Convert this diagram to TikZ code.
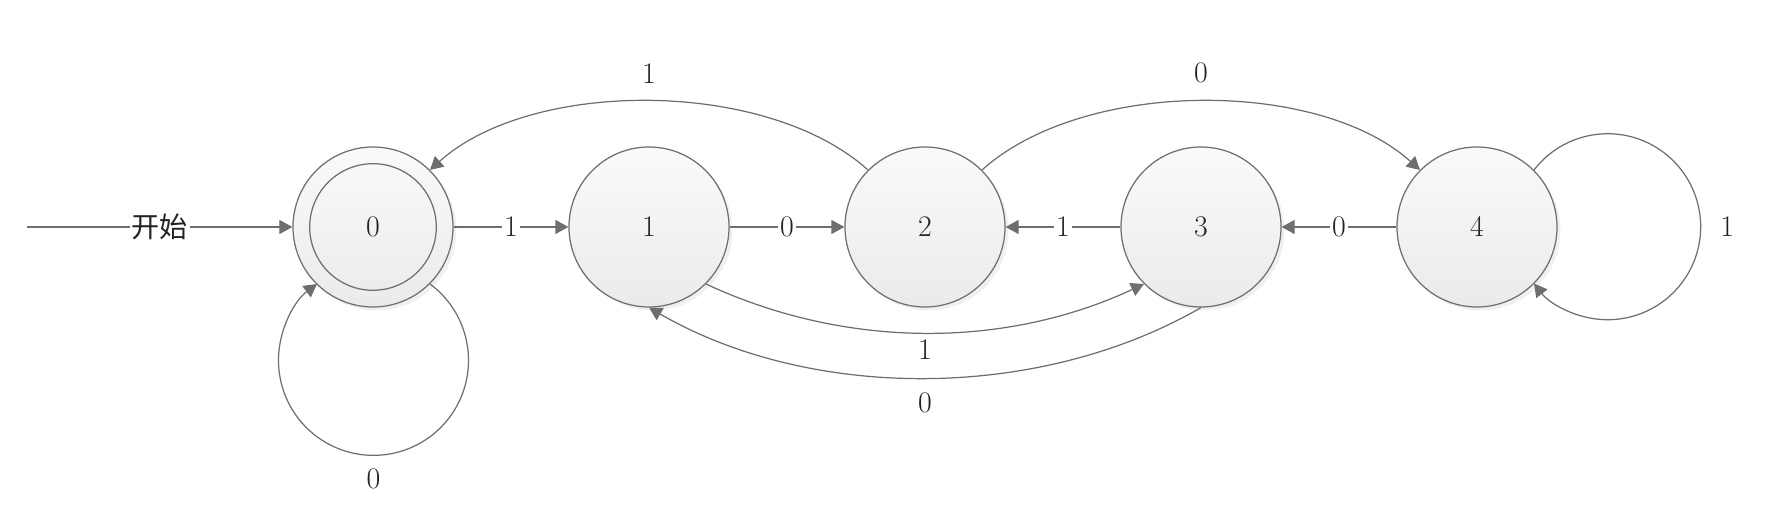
\documentclass[tikz,border=0pt]{standalone}
\usepackage{fontspec}
\newfontfamily\cjk{Noto Sans CJK SC}
\usepackage{tikz}
\usetikzlibrary{arrows.meta,positioning,shadows}
\definecolor{linegray}{HTML}{6E6E6E}
\definecolor{textdark}{HTML}{222222}

\begin{document}
\begin{tikzpicture} [x = 0.2mm, y = 0.2mm, node distance = 55.2mm,
	state/.style = {circle, on grid, draw = linegray, line width = 0.7pt, minimum size = 32mm, top color = white!98!black, bottom color = black!8, drop shadow = {shadow xshift = 0.7mm, shadow yshift = -0.7mm, opacity = 0.12}, text = textdark, font = \fontsize{17}{20}\selectfont},
	trans/.style = {draw = linegray, line width = 0.7pt, -{Triangle[length = 2.6mm, width = 2.8mm]}},
	lbl/.style = {inner sep = 1pt, text = textdark, font = \fontsize{17}{20}\selectfont},
	onlbl/.style = {lbl, fill = white}]
	\useasboundingbox (-74.6mm,-56.6mm) rectangle (283.2mm,45.4mm);
	\node [state] (n0) at (0,0) {0};
	\draw [draw = linegray, line width = 0.7pt] (n0) circle [radius = 12.66mm];
	\node [state, right = of n0] (n1) {1};
	\node [state, right = of n1] (n2) {2};
	\node [state, right = of n2] (n3) {3};
	\node [state, right = of n3] (n4) {4};
	\coordinate (start) at (-69.2mm,0);
	\draw [trans] (start) -- node [onlbl] {\cjk\fontsize{16}{19}\selectfont 开始} (n0);
	\draw [trans] (n0) -- node [onlbl] {1} (n1);
	\draw [trans] (n1) -- node [onlbl] {0} (n2);
	\draw [trans] (n3) -- node [onlbl] {1} (n2);
	\draw [trans] (n4) -- node [onlbl] {0} (n3);
	\draw [trans] (n2.135) to [out = 138, in = 42, looseness = 0.8] node [lbl, above = 3.2mm] {1} (n0.45);
	\draw [trans] (n2.45) to [out = 42, in = 138, looseness = 0.8] node [lbl, above = 3.2mm] {0} (n4.135);
	\draw [trans] (n1.-45) to [out = -25, in = -155, looseness = 0.9] node [lbl, below = 0.85mm] {1} (n3.-135);
	\draw [trans] (n3.-90) to [out = -150, in = -30, looseness = 0.87] node [lbl, below = 2.5mm] {0} (n1.-90);
	\draw [trans] (n0.-45) arc [start angle = 53.5, end angle = -233.5, radius = 19mm] node [lbl, midway, below = 2.3mm] {0};
	\draw [trans] (n4.45) arc [start angle = 142.4, end angle = -142.4, radius = 18.6mm] node [lbl, midway, right = 3.45mm] {1};
\end{tikzpicture}
\end{document}
